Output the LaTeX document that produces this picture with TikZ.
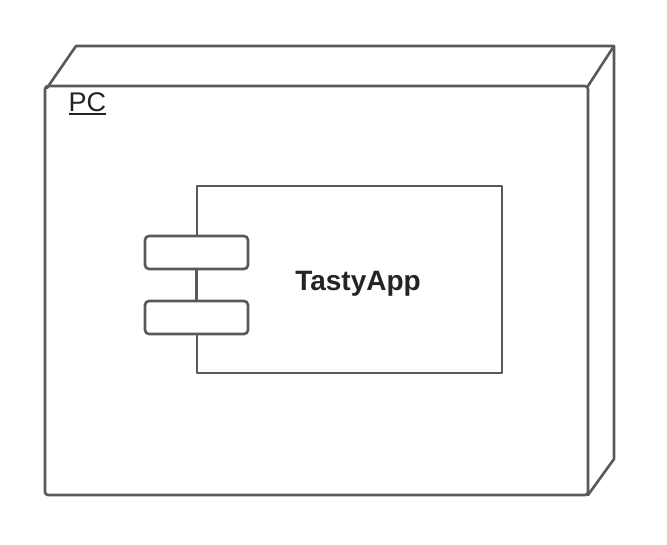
\documentclass[tikz,border=0pt]{standalone}
\usepackage{fontspec}
\setmainfont{Liberation Sans}
\definecolor{ln}{HTML}{595959}
\definecolor{tx}{HTML}{222428}
\begin{document}
\begin{tikzpicture}[x=1pt,y=-1pt,
  edge/.style={draw=ln,line width=2.6pt,line join=round,line cap=round},
  port/.style={draw=ln,line width=2.6pt,rounded corners=4pt,fill=white}]
\useasboundingbox (0,0) rectangle (667,544);
% 3D node
\draw[edge,rounded corners=3pt] (45,86) rectangle (588,495);
\coordinate (ftl) at (47,88);
\coordinate (ftr) at (588,86);
\coordinate (fbr) at (588,495);
\coordinate (btl) at (76,46);
\coordinate (btr) at (614,46);
\coordinate (bbr) at (614,459);
\draw[edge] (ftl) -- (btl) -- (btr) -- (bbr) -- (fbr);
\draw[edge] (ftr) -- (btr);
\node[anchor=base west,inner sep=0pt,text=tx,font=\fontsize{27}{27}\selectfont] (pc) at (68.5,111) {PC};
\draw[tx,line width=1.6pt] (pc.base west) ++(0,3) -- ([yshift=-3pt]pc.base east);
% component
\draw[edge] (197,186) rectangle (502,373);
\node[port,minimum width=103pt,minimum height=33pt,inner sep=0pt] (p1) at (196.5,252.5) {};
\node[port,minimum width=103pt,minimum height=33pt,inner sep=0pt] (p2) at (196.5,317.5) {};
\draw[edge] (p1.south) -- (p2.north);
\node[text=tx,font=\bfseries\fontsize{28}{28}\selectfont] (app) at (358,284) {TastyApp};
\end{tikzpicture}
\end{document}
